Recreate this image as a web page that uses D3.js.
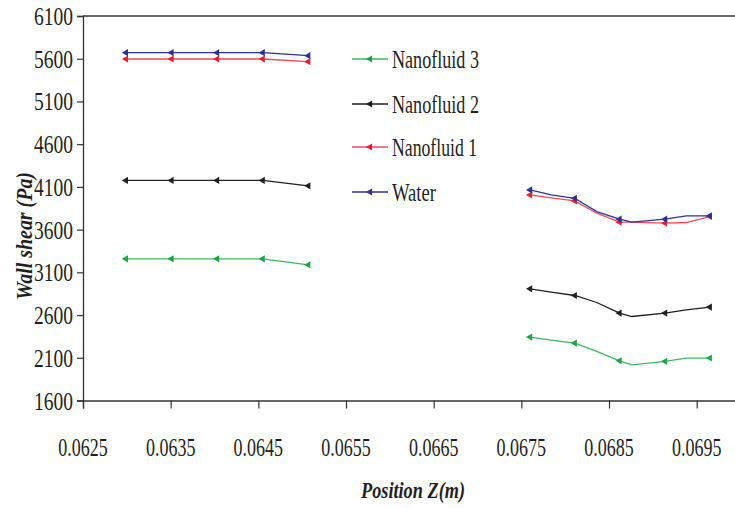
<!DOCTYPE html>
<html><head><meta charset="utf-8">
<script src="https://cdn.jsdelivr.net/npm/d3@7"></script>
<style>body{margin:0;background:#fff}svg{display:block}</style>
</head><body><div id="chart"></div>
<script>
const xTicks = [0.0625,0.0635,0.0645,0.0655,0.0665,0.0675,0.0685,0.0695];
const xTickLabels = ["0.0625","0.0635","0.0645","0.0655","0.0665","0.0675","0.0685","0.0695"];
const yTicks = [1600,2100,2600,3100,3600,4100,4600,5100,5600,6100];
const seriesNames = ["Nanofluid 3","Nanofluid 2","Nanofluid 1","Water"];
const xLeft = [0.06299,0.06351,0.06403,0.06455,0.06507];
const xRight = [0.0676,0.06784,0.06811,0.06836,0.06862,0.06876,0.06914,0.06938,0.06965];
const rightMarkerIdx = [0,2,4,6,8];
const nf3Left = [3258,3258,3258,3258,3188];
const nf3Right = [2342,2307,2272,2174,2065,2018,2058,2097,2097];
const nf2Left = [4176,4176,4176,4176,4112];
const nf2Right = [2907,2868,2829,2747,2623,2583,2623,2661,2693];
const nf1Left = [5597,5597,5597,5597,5566];
const nf1Right = [4006,3971,3936,3792,3687,3687,3675,3683,3753];
const waterLeft = [5671,5671,5671,5671,5636];
const waterRight = [4065,4006,3967,3811,3722,3687,3722,3761,3761];

const W = 735, H = 508;
const svg = d3.select("#chart").append("svg").attr("width", W).attr("height", H);
const x = d3.scaleLinear().domain([0.0625, 0.0700]).range([83, 83 + 7.5*87.67]);
const y = d3.scaleLinear().domain([1600, 6100]).range([400.5, 16]);

const series = [
  {name: seriesNames[0], left: nf3Left, right: nf3Right, line: "#3dba5e", mark: "#1ca545"},
  {name: seriesNames[1], left: nf2Left, right: nf2Right, line: "#231f20", mark: "#231f20"},
  {name: seriesNames[2], left: nf1Left, right: nf1Right, line: "#f04858", mark: "#ed1c2e"},
  {name: seriesNames[3], left: waterLeft, right: waterRight, line: "#2e3192", mark: "#2e3192"}
];

const font = "'Liberation Serif','Times New Roman',serif";
const axisColor = "#333";

svg.append("line").attr("x1", 83).attr("x2", W).attr("y1", 16).attr("y2", 16).attr("stroke", axisColor).attr("stroke-width", 1.3);

const yAxis = d3.axisLeft(y).tickValues(yTicks).tickSize(6).tickFormat(d3.format("d"));
const gy = svg.append("g").attr("transform", "translate(83,0)").call(yAxis);
gy.select(".domain").attr("stroke", axisColor).attr("stroke-width", 1.3);
gy.selectAll(".tick line").attr("stroke", axisColor).attr("stroke-width", 1.2);
gy.selectAll(".tick text").attr("font-family", font).attr("font-size", 25).attr("fill", "#231f20")
  .attr("x", -10).attr("dy", "0.34em").attr("textLength", 39).attr("lengthAdjust", "spacingAndGlyphs");

const xAxis = d3.axisBottom(x).tickValues(xTicks).tickSize(8).tickFormat(() => "");
const gx = svg.append("g").attr("transform", "translate(0,400.5)").call(xAxis);
gx.select(".domain").attr("stroke", axisColor).attr("stroke-width", 1.3);
gx.selectAll(".tick line").attr("stroke", axisColor).attr("stroke-width", 1.2);
gx.selectAll(".tick text").remove();
// x tick labels, horizontally condensed like the reference
svg.selectAll(null).data(xTicks).enter().append("text")
  .attr("transform", d => `translate(${x(d)},456) scale(0.72,1)`)
  .attr("text-anchor", "middle").attr("font-family", font).attr("font-size", 25).attr("fill", "#231f20")
  .text((d, i) => xTickLabels[i]);

const line = d3.line().x(d => x(d[0])).y(d => y(d[1]));
const tri = d3.symbol().type(d3.symbolTriangle).size(22);

series.forEach(s => {
  const L = xLeft.map((v, i) => [v, s.left[i]]);
  const R = xRight.map((v, i) => [v, s.right[i]]);
  [L, R].forEach(pts => {
    svg.append("path").attr("d", line(pts)).attr("fill", "none").attr("stroke", s.line).attr("stroke-width", 1.3);
  });
  const marks = L.concat(rightMarkerIdx.map(i => R[i]));
  svg.selectAll(null).data(marks).enter().append("path")
    .attr("d", tri).attr("fill", s.mark)
    .attr("transform", d => `translate(${x(d[0])},${y(d[1])}) rotate(-90)`);
});

// legend
const legY = [59, 104, 147, 192];
const legW = [87, 87, 85, 44];
series.forEach((s, i) => {
  const g = svg.append("g").attr("transform", `translate(352,${legY[i]})`);
  g.append("line").attr("x1", 0).attr("x2", 36).attr("stroke", s.line).attr("stroke-width", 1.6);
  g.append("path").attr("d", tri).attr("fill", s.mark).attr("transform", "translate(18,0) rotate(-90)");
  g.append("text").attr("x", 40).attr("dy", "0.34em").attr("font-family", font).attr("font-size", 26)
    .attr("fill", "#231f20").attr("textLength", legW[i]).attr("lengthAdjust", "spacingAndGlyphs").text(s.name);
});

// axis titles
svg.append("text").attr("transform", "translate(32,236) rotate(-90)").attr("text-anchor", "middle")
  .attr("font-family", font).attr("font-size", 24).attr("font-weight", "bold").attr("font-style", "italic")
  .attr("fill", "#231f20").attr("textLength", 128).attr("lengthAdjust", "spacingAndGlyphs").text("Wall shear (Pa)");
svg.append("text").attr("x", 413).attr("y", 498).attr("text-anchor", "middle")
  .attr("font-family", font).attr("font-size", 24).attr("font-weight", "bold").attr("font-style", "italic")
  .attr("fill", "#231f20").attr("textLength", 104).attr("lengthAdjust", "spacingAndGlyphs").text("Position Z(m)");
</script></body></html>
